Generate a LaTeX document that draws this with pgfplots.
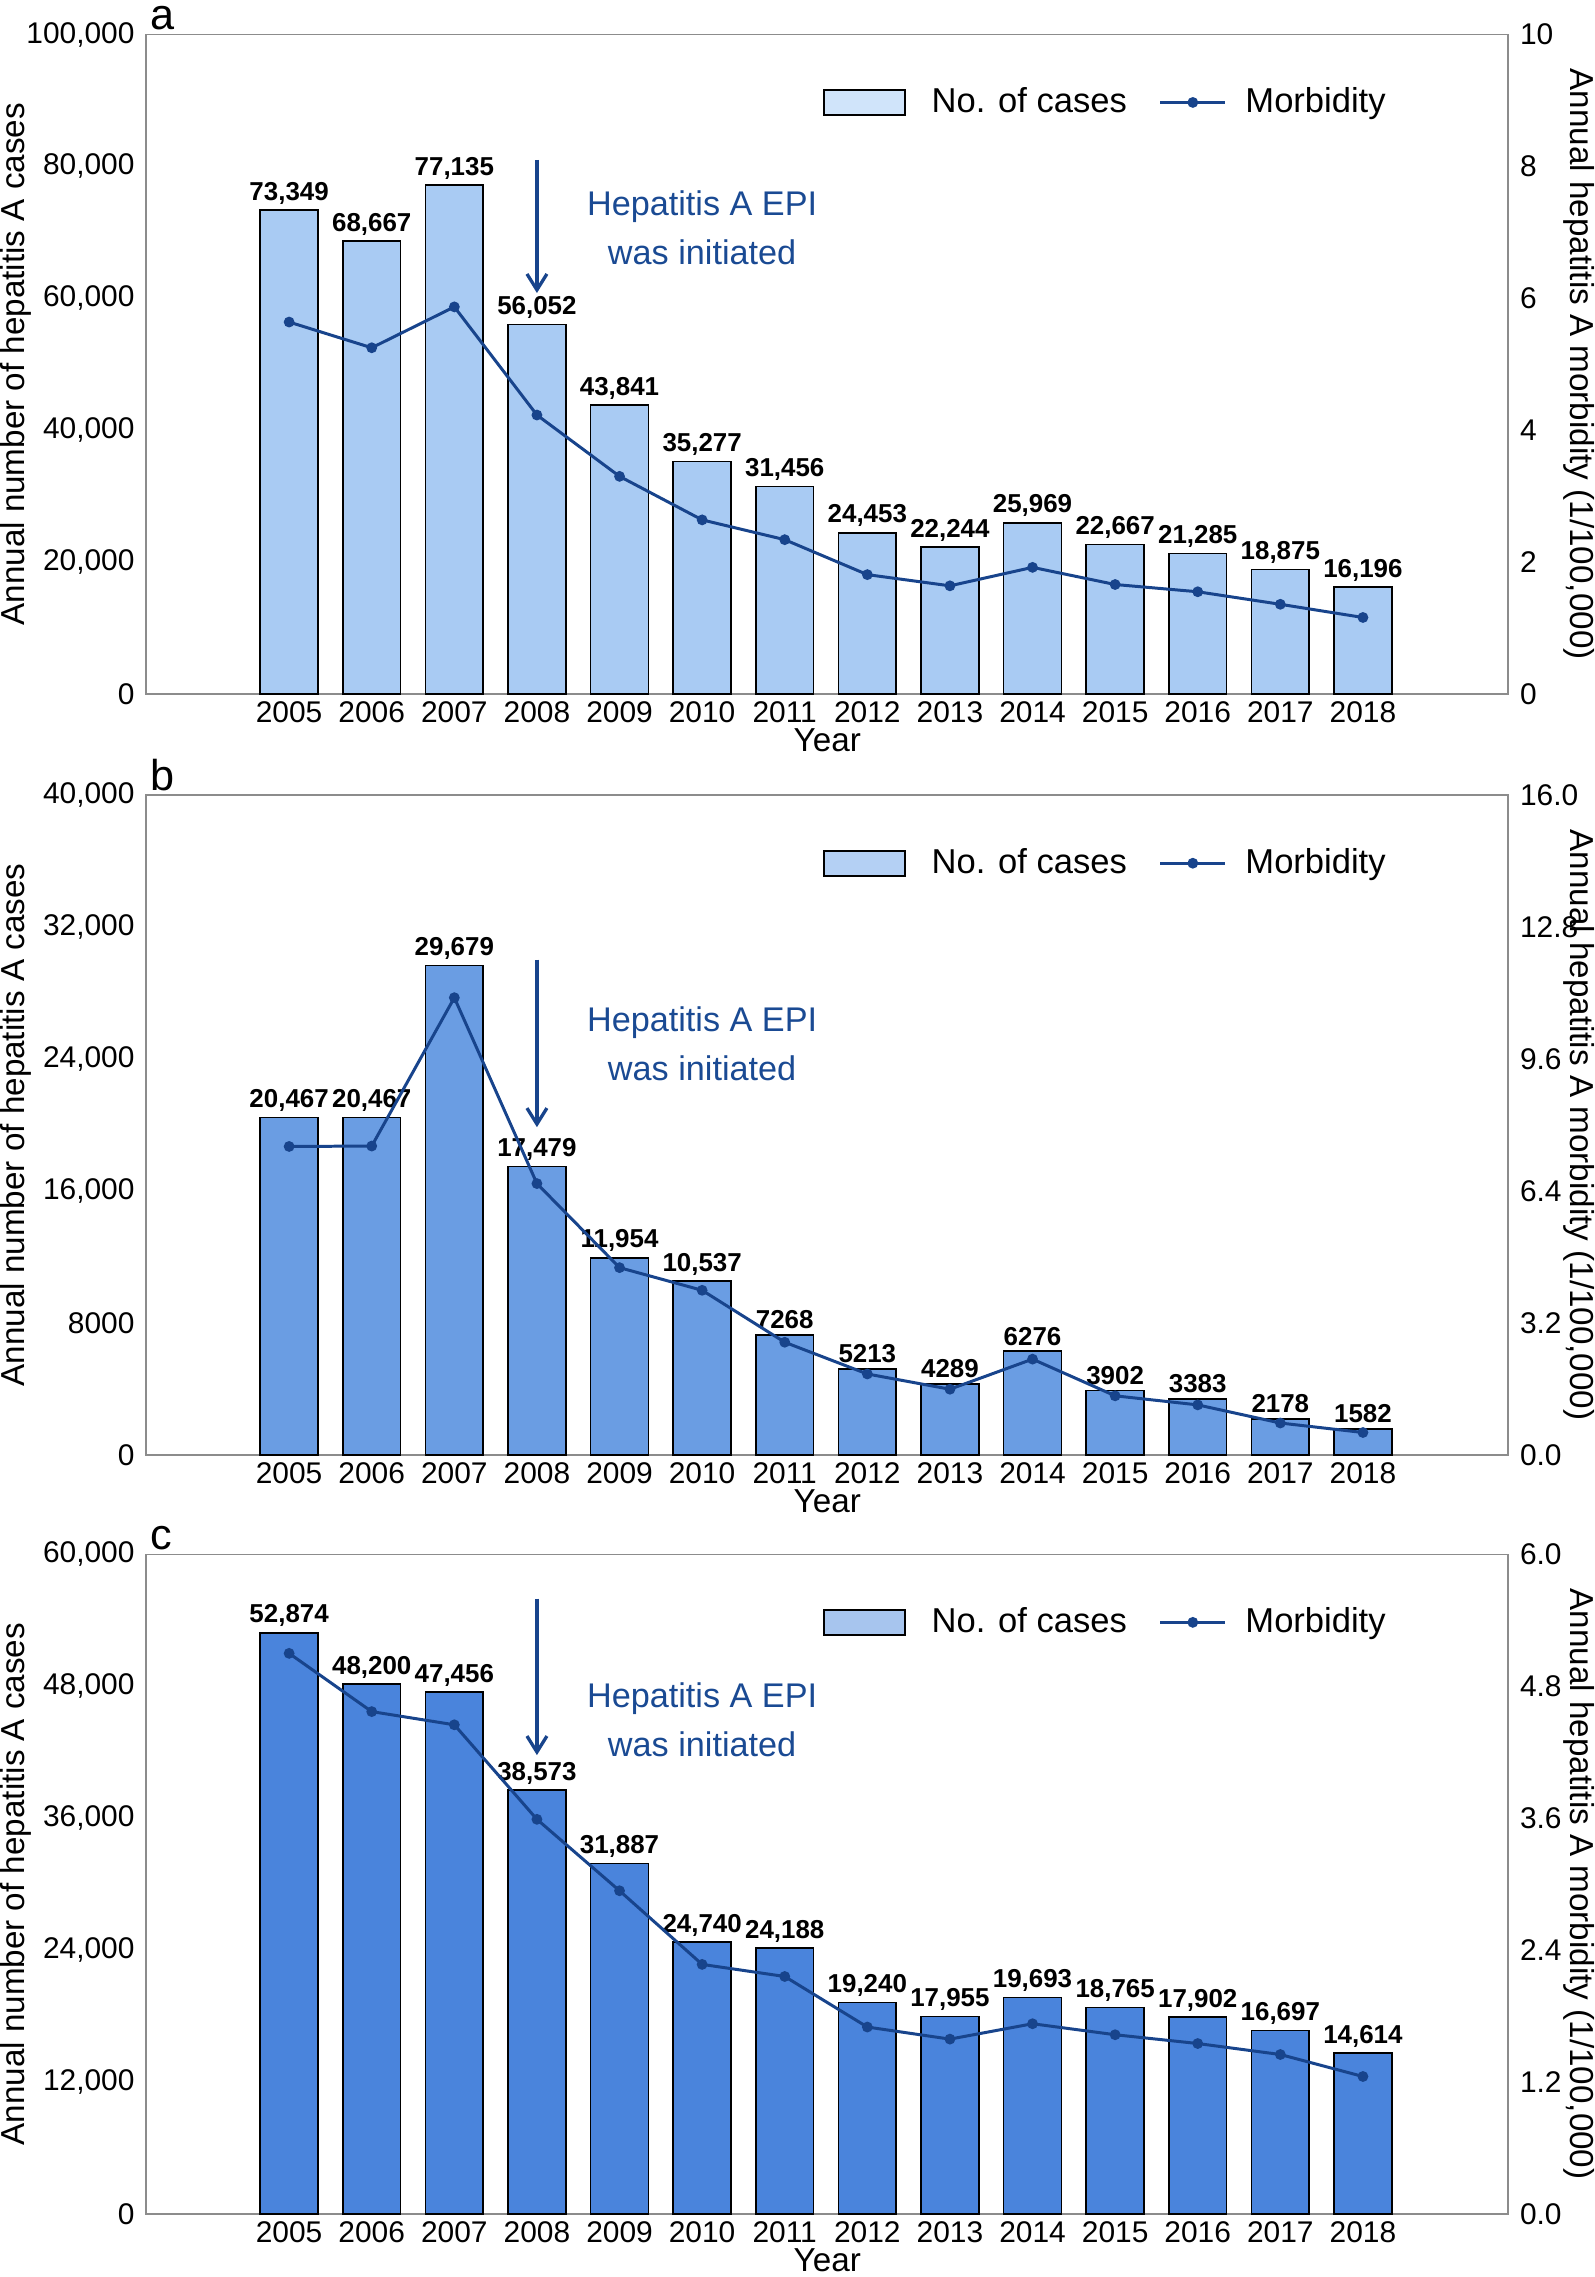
\documentclass[border=0pt]{standalone}
\usepackage{pgfplots}
\pgfplotsset{compat=1.18}
\usepackage{pgfplotstable}
\usetikzlibrary{arrows.meta}
\usepackage{fontspec}
\setmainfont{Liberation Sans}

\definecolor{barA}{HTML}{A9CBF3}
\definecolor{barB}{HTML}{6A9DE3}
\definecolor{barC}{HTML}{4A84DC}
\definecolor{legA}{HTML}{D0E4FA}
\definecolor{legB}{HTML}{B4D0F4}
\definecolor{legC}{HTML}{A7C5EE}
\definecolor{lineC}{HTML}{18448C}
\definecolor{annC}{HTML}{1A4A93}
\definecolor{frameC}{HTML}{8C8C8C}

\pgfplotstableread{
x cases label morb
0 73349 73,349 5.64
1 68667 68,667 5.25
2 77135 77,135 5.87
3 56052 56,052 4.23
4 43841 43,841 3.30
5 35277 35,277 2.64
6 31456 31,456 2.34
7 24453 24,453 1.81
8 22244 22,244 1.64
9 25969 25,969 1.92
10 22667 22,667 1.66
11 21285 21,285 1.55
12 18875 18,875 1.36
13 16196 16,196 1.16
}\dataA

\pgfplotstableread{
x cases label morb
0 20467 20,467 7.48
1 20467 20,467 7.49
2 29679 29,679 11.09
3 17479 17,479 6.58
4 11954 11,954 4.54
5 10537 10,537 3.99
6 7268 7268 2.73
7 5213 5213 1.96
8 4289 4289 1.59
9 6276 6276 2.32
10 3902 3902 1.43
11 3383 3383 1.21
12 2178 2178 0.77
13 1582 1582 0.54
}\dataB

\pgfplotstableread{
x cases label morb
0 52874 52,874 5.10
1 48200 48,200 4.57
2 47456 47,456 4.45
3 38573 38,573 3.59
4 31887 31,887 2.94
5 24740 24,740 2.27
6 24188 24,188 2.16
7 19240 19,240 1.70
8 17955 17,955 1.59
9 19693 19,693 1.73
10 18765 18,765 1.63
11 17902 17,902 1.55
12 16697 16,697 1.45
13 14614 14,614 1.25
}\dataC

\tikzset{epiarrow/.style={lineC, line width=1pt, -{Straight Barb[length=4.8pt,width=6pt]}}}

\pgfplotsset{
  base/.style={
    scale only axis, width=410pt, height=198.5pt,
    xmin=-1.73, xmax=14.76, ymin=0,
    clip=false,
    scaled y ticks=false, scaled x ticks=false,
    axis line style={frameC, line width=0.5pt},
    major tick length=0pt,
    tick label style={font=\fontsize{9}{11}\selectfont, text=black},
    label style={font=\fontsize{9}{11}\selectfont},
  },
  leftax/.style={base,
    xtick={0,1,2,3,4,5,6,7,8,9,10,11,12,13},
    xticklabels={2005,2006,2007,2008,2009,2010,2011,2012,2013,2014,2015,2016,2017,2018},
    xticklabel style={yshift=1.3pt},
    xlabel={Year},
    every axis x label/.style={at={(axis description cs:0.5,0)}, anchor=north, yshift=-10.2pt, inner sep=0pt},
    ylabel={Annual number of hepatitis A cases},
    every axis y label/.style={at={(axis description cs:-0.096,0.5)}, rotate=90, anchor=center, inner sep=0pt},
    bar width=0.7,
    nodes near coords, point meta=explicit symbolic,
    every node near coord/.append style={font=\bfseries\fontsize{7.8}{9}\selectfont, text=black, inner sep=1.5pt},
  },
  rightax/.style={base,
    axis y line*=right, axis x line=none,
    ylabel={Annual hepatitis A morbidity (1/100,000)},
    every axis y label/.style={at={(axis description cs:1.052,0.5)}, rotate=-90, anchor=center, inner sep=0pt},
    legend columns=2,
    legend cell align=left,
    legend style={at={(axis description cs:0.497,0.897)}, anchor=west, draw=none, fill=none,
      inner sep=0pt, outer sep=0pt, font=\fontsize{10.4}{12}\selectfont,
      nodes={inner sep=0pt},
      /tikz/every odd column/.append style={column sep=5.6pt},
      /tikz/every even column/.append style={column sep=9.6pt}},
  },
  morbline/.style={lineC, line width=0.9pt, mark=*, mark size=1.15pt, mark options={fill=lineC, draw=lineC},
    legend image code/.code={\draw[mark repeat=2,mark phase=2] plot coordinates {(0pt,0pt) (9.8pt,0pt) (19.6pt,0pt)};}},
}

\newcommand{\barlegend}[1]{\addlegendimage{legend image code/.code={\draw[fill=#1, draw=black, line width=0.5pt] (0pt,-3.75pt) rectangle (24.4pt,3.75pt); \path (26.6pt,0pt);}}}
\newcommand{\panellabel}[2]{\node[anchor=base west, font=\fontsize{13}{15}\selectfont, inner sep=0pt, outer sep=0pt] at ([xshift=1.2pt,yshift=1.4pt]#1.north west) {#2};
  \path ([yshift=10.4pt]#1.north west) -- ([yshift=10.4pt,xshift=8pt]#1.north west);}

\begin{document}
\begin{tikzpicture}
% ---------------- panel a ----------------
\begin{axis}[leftax, name=axA, at={(0pt,457.5pt)}, anchor=south west,
  ymax=100000, ytick={0,20000,40000,60000,80000,100000},
  yticklabels={0,{20,000},{40,000},{60,000},{80,000},{100,000}}]
\addplot[ybar, fill=barA, draw=black, line width=0.5pt] table[x=x,y=cases,meta=label]{\dataA};
\draw[epiarrow] (axis cs:3,81000) -- (axis cs:3,60800);
\node[text=annC, align=center, font=\fontsize{10.3}{14.8}\selectfont] at (axis cs:5,70700) {Hepatitis A EPI\\was initiated};
\end{axis}
\begin{axis}[rightax, at={(0pt,457.5pt)}, anchor=south west,
  ymax=10, ytick={0,2,4,6,8,10}, yticklabels={0,2,4,6,8,10}]
\barlegend{legA}
\addlegendentry{No. of cases}
\addplot[morbline] table[x=x,y=morb]{\dataA};
\addlegendentry{Morbidity}
\end{axis}
\panellabel{axA}{a}

% ---------------- panel b ----------------
\begin{axis}[leftax, name=axB, at={(0pt,228.5pt)}, anchor=south west,
  ymax=40000, ytick={0,8000,16000,24000,32000,40000},
  yticklabels={0,8000,{16,000},{24,000},{32,000},{40,000}}]
\addplot[ybar, fill=barB, draw=black, line width=0.5pt] table[x=x,y=cases,meta=label]{\dataB};
\draw[epiarrow] (axis cs:3,30040) -- (axis cs:3,19870);
\node[text=annC, align=center, font=\fontsize{10.3}{14.8}\selectfont] at (axis cs:5,24920) {Hepatitis A EPI\\was initiated};
\end{axis}
\begin{axis}[rightax, at={(0pt,228.5pt)}, anchor=south west,
  ymax=16, ytick={0,3.2,6.4,9.6,12.8,16}, yticklabels={0.0,3.2,6.4,9.6,12.8,16.0}]
\barlegend{legB}
\addlegendentry{No. of cases}
\addplot[morbline] table[x=x,y=morb]{\dataB};
\addlegendentry{Morbidity}
\end{axis}
\panellabel{axB}{b}

% ---------------- panel c ----------------
\begin{axis}[leftax, name=axC, at={(0pt,0pt)}, anchor=south west,
  ymax=60000, ytick={0,12000,24000,36000,48000,60000},
  yticklabels={0,{12,000},{24,000},{36,000},{48,000},{60,000}}]
\addplot[ybar, fill=barC, draw=black, line width=0.5pt] table[x=x,y=cases,meta=label]{\dataC};
\draw[epiarrow] (axis cs:3,55970) -- (axis cs:3,41740);
\node[text=annC, align=center, font=\fontsize{10.3}{14.8}\selectfont] at (axis cs:5,44970) {Hepatitis A EPI\\was initiated};
\end{axis}
\begin{axis}[rightax, at={(0pt,0pt)}, anchor=south west,
  ymax=6, ytick={0,1.2,2.4,3.6,4.8,6}, yticklabels={0.0,1.2,2.4,3.6,4.8,6.0}]
\barlegend{legC}
\addlegendentry{No. of cases}
\addplot[morbline] table[x=x,y=morb]{\dataC};
\addlegendentry{Morbidity}
\end{axis}
\panellabel{axC}{c}
\path (axC.south) ++(0pt,-19pt) -- ++(1pt,0pt);
\end{tikzpicture}
\end{document}
